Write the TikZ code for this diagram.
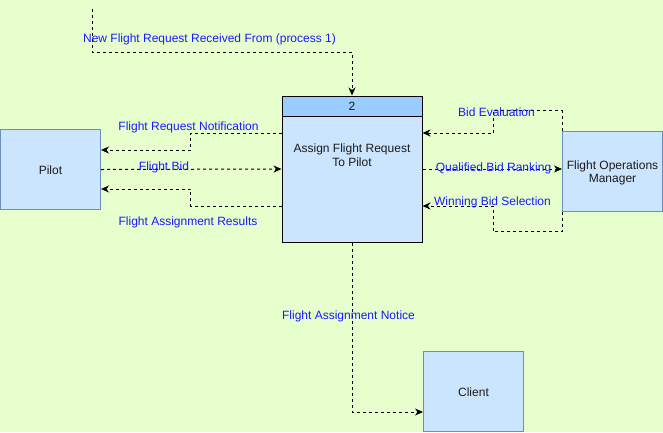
\documentclass[tikz,border=0pt]{standalone}
\usepackage{fontspec}
\setmainfont{Liberation Sans}
\usetikzlibrary{arrows.meta,calc}
\definecolor{bg}{HTML}{E6FFCC}
\definecolor{boxfill}{HTML}{CCE5FF}
\definecolor{boxline}{HTML}{6C8EBF}
\definecolor{hdrfill}{HTML}{99CCFF}
\definecolor{lbl}{HTML}{1A1AFF}
\definecolor{txt}{HTML}{1A1A1A}
\newcommand{\lowtext}[1]{\raisebox{-2pt}[\height][\depth]{\begin{tabular}{@{}c@{}}#1\end{tabular}}}
\tikzset{
  ent/.style={draw=boxline,fill=boxfill,line width=1pt,minimum width=100pt,minimum height=80pt,inner sep=0pt,text=txt},
  flow/.style={draw=black,line width=1pt,dash pattern=on 3pt off 3pt,-{Stealth[length=8pt,width=7pt,inset=2.5pt]}},
  lab/.style={text=lbl,inner sep=0pt,anchor=center,yshift=-2pt},
}
\begin{document}
\begin{tikzpicture}[x=1pt,y=-1pt,font=\fontsize{12}{14}\selectfont]
\fill[bg] (0,0) rectangle (663,432);
\useasboundingbox (0,0) rectangle (663,432);
% entities
\node[ent] (pilot) at (50.5,169.5) {\lowtext{Pilot}};
\node[ent] (fom) at (612.5,171) {\lowtext{Flight Operations\\[-1pt]Manager}};
\node[ent] (client) at (473.5,391.5) {\lowtext{Client}};
% process
\node[draw=black,fill=boxfill,line width=1pt,minimum width=140pt,minimum height=146pt,inner sep=0pt] (proc) at (352,169) {};
\node[draw=black,fill=hdrfill,line width=1pt,minimum width=140pt,minimum height=20pt,inner sep=0pt,anchor=north,text=txt] (hdr) at (proc.north) {\lowtext{2}};
\node[text=txt,inner sep=0pt] (ptext) at (352,156.5) {\begin{tabular}{@{}c@{}}Assign Flight Request\\[-0.5pt]To Pilot\end{tabular}};
% flows (yshift is in page direction: positive = up)
\coordinate (src) at (92,9);
\draw[flow] (src) -- ++(0,43) -| (hdr.north);
\draw[flow] ([yshift=36pt]proc.west) -- ++(-91,0) |- ([yshift=19.5pt]pilot.east);
\draw[flow] (pilot.east) -- (proc.west);
\draw[flow] ([yshift=-37pt]proc.west) -- ++(-91,0) |- ([yshift=-19.5pt]pilot.east);
\draw[flow] (fom.north west) -- ++(0,-20) -| ([xshift=70.5pt,yshift=36pt]proc.east) -- ([yshift=36pt]proc.east);
\draw[flow] (proc.east) -- (proc.east -| fom.west);
\draw[flow] (fom.south west) -- ++(0,20) -| ([xshift=70.5pt,yshift=-37pt]proc.east) -- ([yshift=-37pt]proc.east);
\draw[flow] (proc.south) |- ([yshift=-20.5pt]client.west);
% labels
\node[lab] (l1) at (209.5,37.5) {New Flight Request Received From (process 1)};
\node[lab] (l2) at (188.5,125.5) {Flight Request Notification};
\node[lab] (l3) at (164,165.5) {Flight Bid};
\node[lab] (l4) at (188,220.5) {Flight Assignment Results};
\node[lab] (l5) at (496.5,110.5) {Bid Evaluation};
\node[lab] (l6) at (493.5,166.5) {Qualified Bid Ranking};
\node[lab] (l7) at (492.5,200.5) {Winning Bid Selection};
\node[lab] (l8) at (348.5,314.5) {Flight Assignment Notice};
\end{tikzpicture}
\end{document}
